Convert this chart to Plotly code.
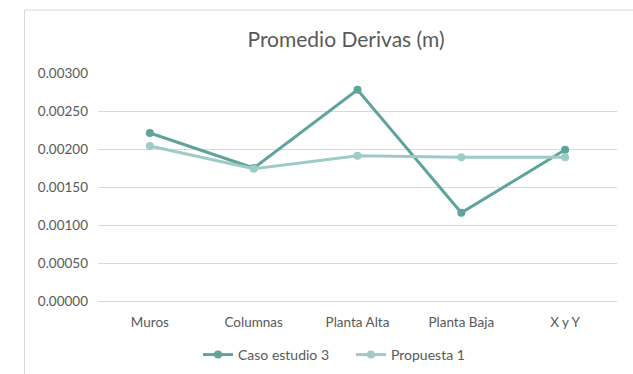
import plotly.graph_objects as go

# Average drift per structural element
categorias = ["Muros", "Columnas", "Planta Alta", "Planta Baja", "X y Y"]
caso_estudio_3 = [0.00221, 0.00175, 0.00278, 0.00116, 0.00199]
propuesta_1 = [0.00204, 0.00174, 0.00191, 0.00189, 0.00189]
y_ticks = [0.0, 0.0005, 0.0010, 0.0015, 0.0020, 0.0025, 0.0030]

W, H = 633, 374
L, R, T, B = 98, 16, 73, 73
pw, ph = W - L - R, H - T - B


def px_x(p):
    return (p - L) / pw


def px_y(p):
    return (H - B - p) / ph


font = "Lato, Calibri, 'Open Sans', sans-serif"
gray = "#595959"

fig = go.Figure()
fig.add_trace(go.Scatter(
    x=categorias, y=caso_estudio_3, name="Caso estudio 3",
    mode="lines+markers",
    line=dict(color="#5fa39d", width=3),
    marker=dict(color="#5fa39d", size=8),
))
fig.add_trace(go.Scatter(
    x=categorias, y=propuesta_1, name="Propuesta 1",
    mode="lines+markers",
    line=dict(color="#9fcbc6", width=3),
    marker=dict(color="#9fcbc6", size=8),
))

fig.update_layout(
    width=W, height=H,
    margin=dict(l=L, r=R, t=T, b=B, autoexpand=False),
    paper_bgcolor="white", plot_bgcolor="white",
    font=dict(family=font, color=gray, size=13),
    title=dict(text="Promedio Derivas (m)", x=px_x(346), xref="paper",
               xanchor="center", y=1 - 40 / H, yanchor="middle",
               font=dict(size=21, color=gray, family=font)),
    showlegend=True,
    legend=dict(orientation="h", x=px_x(351), xanchor="center",
                y=px_y(355), yanchor="middle",
                font=dict(size=14, color=gray),
                entrywidth=108, entrywidthmode="pixels",
                bgcolor="rgba(0,0,0,0)"),
    shapes=[dict(type="rect", xref="paper", yref="paper",
                 x0=px_x(24.5), x1=px_x(645), y0=px_y(385), y1=px_y(10),
                 line=dict(color="#d9d9d9", width=1), layer="below")],
)

fig.update_xaxes(
    type="category", range=[-0.5, 4.5], automargin=False,
    showgrid=False, showline=True, linecolor="#d9d9d9", linewidth=1,
    ticks="", ticklabelstandoff=9, tickfont=dict(size=13.5, color=gray),
    zeroline=False, fixedrange=True,
)
fig.update_yaxes(
    range=[0, 0.003], tickvals=y_ticks, tickformat=".5f", automargin=False,
    showgrid=True, gridcolor="#d9d9d9", gridwidth=1,
    zeroline=False, showline=False, ticks="",
    ticklabelstandoff=9, tickfont=dict(size=13.5, color=gray), fixedrange=True,
)

fig.write_html("out.html")
